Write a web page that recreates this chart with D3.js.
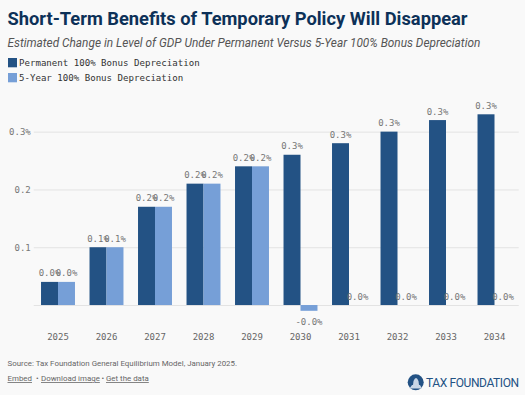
<!DOCTYPE html>
<html><head><meta charset="utf-8">
<script src="https://cdnjs.cloudflare.com/ajax/libs/d3/7.8.5/d3.min.js"></script>
<style>html,body{margin:0;padding:0;background:#f9f9f9}svg{display:block}</style></head>
<body><svg id="c" width="525" height="395"></svg>
<script>
const years=["2025","2026","2027","2028","2029","2030","2031","2032","2033","2034"];
const permanent=[0.04,0.10,0.17,0.21,0.24,0.26,0.28,0.30,0.32,0.33];
const fiveYear=[0.04,0.10,0.17,0.21,0.24,-0.01,0,0,0,0];
const permanentLabels=["0.0%","0.1%","0.2%","0.2%","0.2%","0.3%","0.3%","0.3%","0.3%","0.3%"];
const fiveYearLabels=["0.0%","0.1%","0.2%","0.2%","0.2%","-0.0%","0.0%","0.0%","0.0%","0.0%"];
const yTicks=[0,0.1,0.2,0.3];
const yTickLabels=["","0.1","0.2","0.3%"];
const seriesNames=["Permanent 100% Bonus Depreciation","5-Year 100% Bonus Depreciation"];
const colors=["#235284","#769fd7"];
const MONO="'DejaVu Sans Mono',monospace", SANS="Roboto,sans-serif";
const svg=d3.select("#c");
svg.append("rect").attr("width",525).attr("height",395).attr("fill","#f9f9f9");
svg.append("text").attr("x",7.5).attr("y",24.5).attr("font-family",SANS).attr("font-weight",700).attr("font-size",18.3).attr("fill","#0d3158").text("Short-Term Benefits of Temporary Policy Will Disappear");
svg.append("text").attr("x",7.5).attr("y",46.5).attr("font-family",SANS).attr("font-style","italic").attr("font-size",11.85).attr("fill","#555").text("Estimated Change in Level of GDP Under Permanent Versus 5-Year 100% Bonus Depreciation");
seriesNames.forEach((n,i)=>{
  const y=58+15*i;
  svg.append("rect").attr("x",8).attr("y",y).attr("width",9).attr("height",9.3).attr("fill",colors[i]);
  svg.append("text").attr("x",19).attr("y",y+8).attr("font-family",MONO).attr("font-size",9.1).attr("fill","#333").text(n);
});
const x=d3.scaleBand().domain(years).range([33.75,518.75]).paddingInner(0.3).paddingOuter(0.15);
const inner=d3.scaleBand().domain([0,1]).range([0,x.bandwidth()]);
const y=d3.scaleLinear().domain([-0.01,0.33]).range([310.8,114.3]);
const gy=svg.append("g").attr("transform","translate(33.75,0)")
  .call(d3.axisLeft(y).tickValues(yTicks).tickSize(-485).tickFormat((d,i)=>yTickLabels[i]));
gy.select(".domain").remove();
gy.selectAll("line").attr("stroke","#e3e3e3").attr("stroke-width",1);
gy.selectAll("text").attr("font-family",MONO).attr("font-size",9).attr("fill","#777").attr("x",-3);
const gx=svg.append("g").attr("transform","translate(0,332)")
  .call(d3.axisBottom(x).tickSize(0).tickPadding(0));
gx.select(".domain").remove();
gx.selectAll("text").attr("font-family",MONO).attr("font-size",9).attr("fill","#666").attr("dy",0).attr("y",8);
[permanent,fiveYear].forEach((vals,s)=>{
  svg.append("g").selectAll("rect").data(vals).join("rect")
    .attr("x",(d,i)=>x(years[i])+inner(s)).attr("width",inner.bandwidth())
    .attr("y",d=>Math.min(y(d),y(0))).attr("height",d=>Math.abs(y(d)-y(0)))
    .attr("fill",colors[s]);
});
[permanent,fiveYear].forEach((vals,s)=>{
  const labels=s===0?permanentLabels:fiveYearLabels;
  svg.append("g").selectAll("text").data(vals).join("text")
    .attr("x",(d,i)=>x(years[i])+inner(s)+inner.bandwidth()/2)
    .attr("y",d=>d<0?y(d)+14:y(d)-5.5)
    .attr("text-anchor","middle").attr("font-family",MONO).attr("font-size",9).attr("fill","#777")
    .text((d,i)=>labels[i]);
});
const FS=7.9, FC="#666";
svg.append("text").attr("x",7.5).attr("y",366).attr("font-family",SANS).attr("font-size",FS).attr("fill",FC).text("Source: Tax Foundation General Equilibrium Model, January 2025.");
const footY=381;
svg.append("text").attr("x",7.5).attr("y",footY).attr("font-family",SANS).attr("font-size",FS).attr("fill",FC).attr("text-decoration","underline").text("Embed");
svg.append("text").attr("x",36).attr("y",footY).attr("font-family",SANS).attr("font-size",FS).attr("fill",FC).text("•");
svg.append("text").attr("x",41).attr("y",footY).attr("font-family",SANS).attr("font-size",FS).attr("fill",FC).attr("text-decoration","underline").text("Download image");
svg.append("text").attr("x",101.5).attr("y",footY).attr("font-family",SANS).attr("font-size",FS).attr("fill",FC).text("•");
svg.append("text").attr("x",106).attr("y",footY).attr("font-family",SANS).attr("font-size",FS).attr("fill",FC).attr("text-decoration","underline").text("Get the data");
const logo=svg.append("g");
logo.append("circle").attr("cx",415.7).attr("cy",382.3).attr("r",8).attr("fill","#235284");
logo.append("path").attr("d","M409.5 388.5 L422 388.5 L420 385 L419 385 L418.5 381 Q416 375 413.5 381 L413 385 L412 385 Z").attr("fill","#c9d6e6");
logo.append("text").attr("x",426).attr("y",387).attr("font-family",SANS).attr("font-size",12).attr("letter-spacing",-0.4).attr("fill","#235284").text("TAX FOUNDATION");
</script></body></html>
